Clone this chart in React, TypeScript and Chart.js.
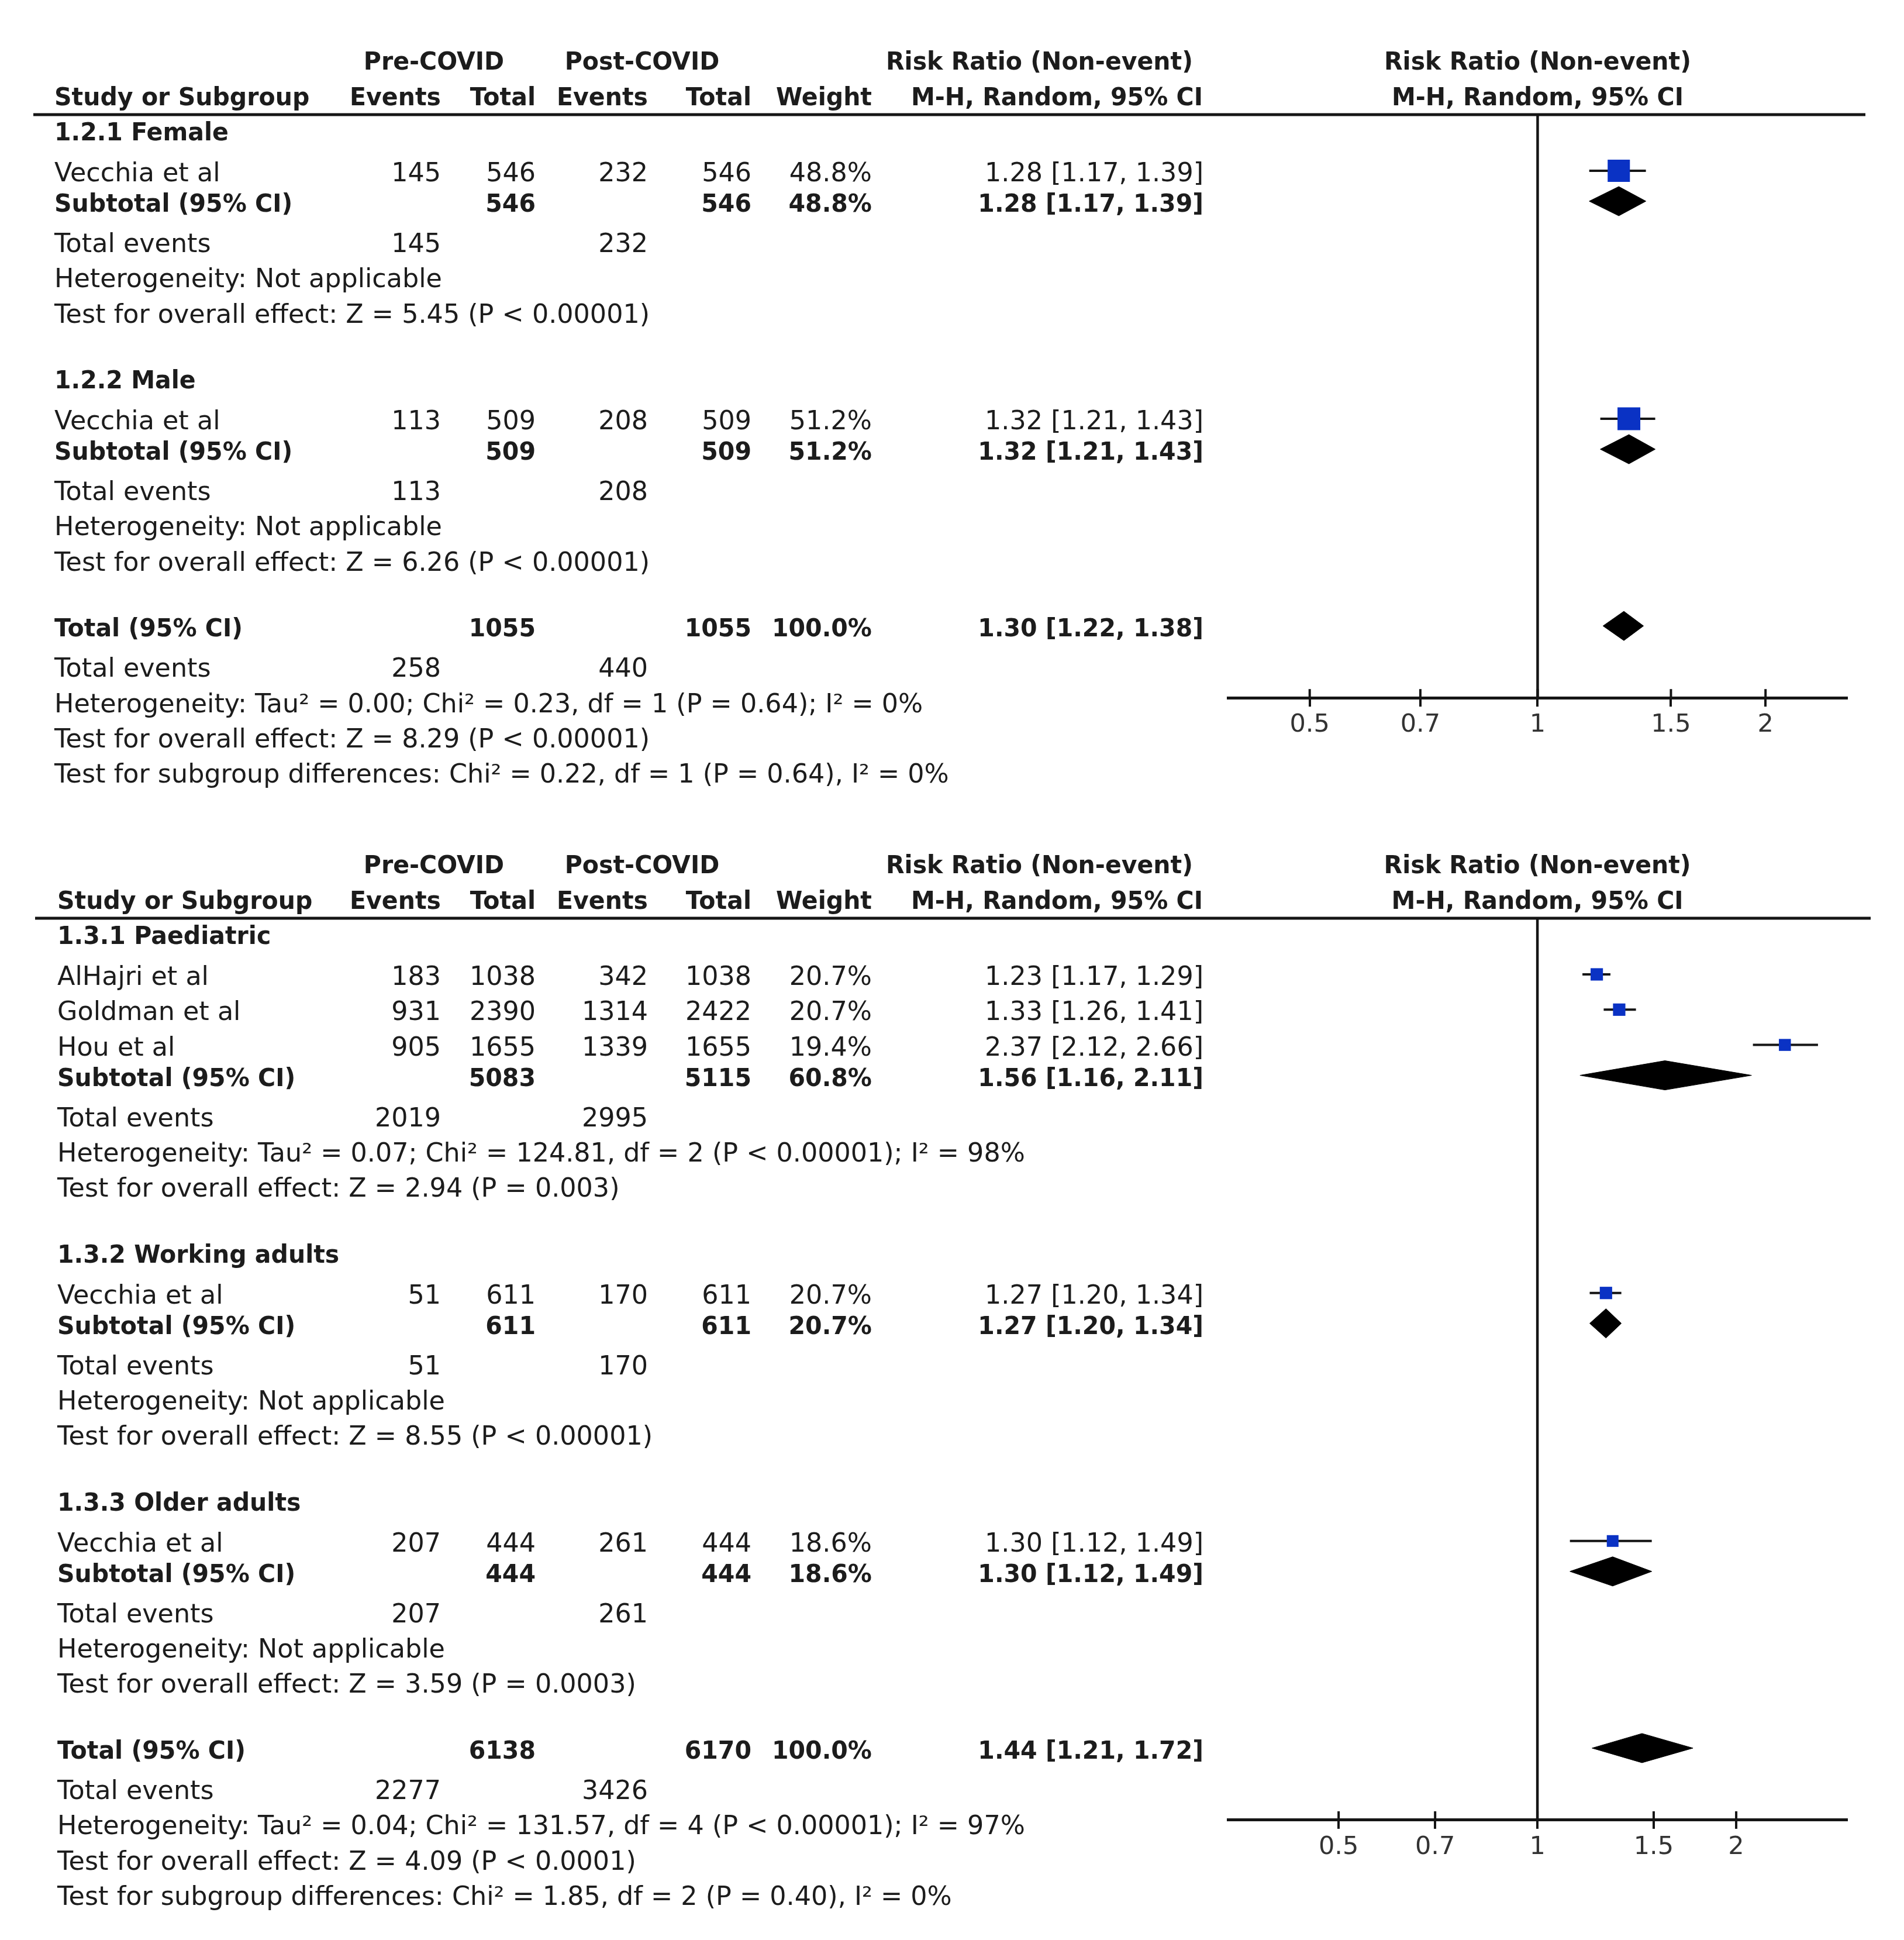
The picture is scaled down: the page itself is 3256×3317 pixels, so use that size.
import React, { useEffect, useRef } from "react";
import { Chart, registerables } from "chart.js";

Chart.register(...registerables);

const FONT_FAMILY = '"DejaVu Sans", "Lucida Grande", Verdana, sans-serif';
const TEXT_SIZE = 44;
const BOLD_SIZE = 43;
const TICK_SIZE = 43;
const TEXT_COLOR = "#1c1c1c";
const LINE_COLOR = "#151515";
const BOX_COLOR = "#0a32c4";

// ---------------- Data: sex subgroups (top plot) ----------------
const sexGroups = ["1.2.1 Female", "1.2.2 Male"];
const sexStudies = [
  { group: 0, name: "Vecchia et al", preEvents: 145, preTotal: 546, postEvents: 232, postTotal: 546, weight: 48.8, rr: 1.28, lo: 1.17, hi: 1.39 },
  { group: 1, name: "Vecchia et al", preEvents: 113, preTotal: 509, postEvents: 208, postTotal: 509, weight: 51.2, rr: 1.32, lo: 1.21, hi: 1.43 },
];
const sexSubtotals = [
  { weight: 48.8, rr: 1.28, lo: 1.17, hi: 1.39, heterogeneity: "Heterogeneity: Not applicable", effect: "Test for overall effect: Z = 5.45 (P < 0.00001)" },
  { weight: 51.2, rr: 1.32, lo: 1.21, hi: 1.43, heterogeneity: "Heterogeneity: Not applicable", effect: "Test for overall effect: Z = 6.26 (P < 0.00001)" },
];
const sexOverall = {
  weight: 100.0, rr: 1.30, lo: 1.22, hi: 1.38,
  heterogeneity: "Heterogeneity: Tau² = 0.00; Chi² = 0.23, df = 1 (P = 0.64); I² = 0%",
  effect: "Test for overall effect: Z = 8.29 (P < 0.00001)",
  subgroup: "Test for subgroup differences: Chi² = 0.22, df = 1 (P = 0.64), I² = 0%",
};
const sexTicks = [0.5, 0.7, 1, 1.5, 2];
const sexAxisRange = [0.39, 2.56];

// ---------------- Data: age subgroups (bottom plot) ----------------
const ageGroups = ["1.3.1 Paediatric", "1.3.2 Working adults", "1.3.3 Older adults"];
const ageStudies = [
  { group: 0, name: "AlHajri et al", preEvents: 183, preTotal: 1038, postEvents: 342, postTotal: 1038, weight: 20.7, rr: 1.23, lo: 1.17, hi: 1.29 },
  { group: 0, name: "Goldman et al", preEvents: 931, preTotal: 2390, postEvents: 1314, postTotal: 2422, weight: 20.7, rr: 1.33, lo: 1.26, hi: 1.41 },
  { group: 0, name: "Hou et al", preEvents: 905, preTotal: 1655, postEvents: 1339, postTotal: 1655, weight: 19.4, rr: 2.37, lo: 2.12, hi: 2.66 },
  { group: 1, name: "Vecchia et al", preEvents: 51, preTotal: 611, postEvents: 170, postTotal: 611, weight: 20.7, rr: 1.27, lo: 1.20, hi: 1.34 },
  { group: 2, name: "Vecchia et al", preEvents: 207, preTotal: 444, postEvents: 261, postTotal: 444, weight: 18.6, rr: 1.30, lo: 1.12, hi: 1.49 },
];
const ageSubtotals = [
  { weight: 60.8, rr: 1.56, lo: 1.16, hi: 2.11, heterogeneity: "Heterogeneity: Tau² = 0.07; Chi² = 124.81, df = 2 (P < 0.00001); I² = 98%", effect: "Test for overall effect: Z = 2.94 (P = 0.003)" },
  { weight: 20.7, rr: 1.27, lo: 1.20, hi: 1.34, heterogeneity: "Heterogeneity: Not applicable", effect: "Test for overall effect: Z = 8.55 (P < 0.00001)" },
  { weight: 18.6, rr: 1.30, lo: 1.12, hi: 1.49, heterogeneity: "Heterogeneity: Not applicable", effect: "Test for overall effect: Z = 3.59 (P = 0.0003)" },
];
const ageOverall = {
  weight: 100.0, rr: 1.44, lo: 1.21, hi: 1.72,
  heterogeneity: "Heterogeneity: Tau² = 0.04; Chi² = 131.57, df = 4 (P < 0.00001); I² = 97%",
  effect: "Test for overall effect: Z = 4.09 (P < 0.0001)",
  subgroup: "Test for subgroup differences: Chi² = 1.85, df = 2 (P = 0.40), I² = 0%",
};
const ageTicks = [0.5, 0.7, 1, 1.5, 2];
const ageAxisRange = [0.34, 2.94];

// ---------------- Column headers ----------------
const headerTop = ["Pre-COVID", "Post-COVID", "Risk Ratio (Non-event)"];
const headerBottom = ["Study or Subgroup", "Events", "Total", "Events", "Total", "Weight", "M-H, Random, 95% CI"];

// ---------------- Layout (positions / sizes only) ----------------
const PAGE_W = 3256;
const COL = { ev1: 754, tot1: 916, ev2: 1108, tot2: 1285, weight: 1491, ci: 2058, pre: 742, post: 1098, rrHead: 2040, mhHead: 2057 };
const PLOT_LEFT = 2100;
const PLOT_RIGHT = 3158;
const SP = { headerGap: 61, headerToRule: 31, ruleToGroup: 29, groupToStudy: 70, line: 60.3, studyToSub: 52, subToEvents: 69, testToNext: 112.5, totalToAxis: 120 };
const X_AXIS_H = 80;
const TICK_LEN = 15;
const BASE_DY = 15;
const MARK_DY = -3;
const DIAMOND_HALF = 25;

const panelA = {
  height: 1400, header1: 104, textLeft: 93, ruleLeft: 57, ruleRight: 3190, boxScale: 5.45,
  groups: sexGroups, studies: sexStudies, subtotals: sexSubtotals, overall: sexOverall, ticks: sexTicks, range: sexAxisRange,
};
const panelB = {
  height: 1917, header1: 78, textLeft: 98, ruleLeft: 60, ruleRight: 3199, boxScale: 4.65,
  groups: ageGroups, studies: ageStudies, subtotals: ageSubtotals, overall: ageOverall, ticks: ageTicks, range: ageAxisRange,
};

type Cell = { x: number | "plot"; text: string; align: CanvasTextAlign; bold: boolean };
type Row = { y: number; cells: Cell[] };
type Mark = { y: number; rr: number; lo: number; hi: number; weight: number; kind: "box" | "diamond" };

const fmtCI = (r: { rr: number; lo: number; hi: number }) => `${r.rr.toFixed(2)} [${r.lo.toFixed(2)}, ${r.hi.toFixed(2)}]`;
const fmtW = (w: number) => `${w.toFixed(1)}%`;
const sum = (a: number[]) => a.reduce((s, v) => s + v, 0);

function buildLayout(p: any) {
  const rows: Row[] = [];
  const marks: Mark[] = [];
  const h1 = p.header1;
  const h2 = h1 + SP.headerGap;
  const ruleY = h2 + SP.headerToRule;
  const L = p.textLeft;
  rows.push({
    y: h1,
    cells: [
      { x: COL.pre, text: headerTop[0], align: "center", bold: true },
      { x: COL.post, text: headerTop[1], align: "center", bold: true },
      { x: COL.rrHead, text: headerTop[2], align: "right", bold: true },
      { x: "plot", text: headerTop[2], align: "center", bold: true },
    ],
  });
  rows.push({
    y: h2,
    cells: [
      { x: L, text: headerBottom[0], align: "left", bold: true },
      { x: COL.ev1, text: headerBottom[1], align: "right", bold: true },
      { x: COL.tot1, text: headerBottom[2], align: "right", bold: true },
      { x: COL.ev2, text: headerBottom[3], align: "right", bold: true },
      { x: COL.tot2, text: headerBottom[4], align: "right", bold: true },
      { x: COL.weight, text: headerBottom[5], align: "right", bold: true },
      { x: COL.mhHead, text: headerBottom[6], align: "right", bold: true },
      { x: "plot", text: headerBottom[6], align: "center", bold: true },
    ],
  });
  let y = ruleY + SP.ruleToGroup;
  p.groups.forEach((title: string, gi: number) => {
    if (gi > 0) y += SP.testToNext;
    rows.push({ y, cells: [{ x: L, text: title, align: "left", bold: true }] });
    const gs = p.studies.filter((s: any) => s.group === gi);
    gs.forEach((s: any, i: number) => {
      y += i === 0 ? SP.groupToStudy : SP.line;
      rows.push({
        y,
        cells: [
          { x: L, text: s.name, align: "left", bold: false },
          { x: COL.ev1, text: String(s.preEvents), align: "right", bold: false },
          { x: COL.tot1, text: String(s.preTotal), align: "right", bold: false },
          { x: COL.ev2, text: String(s.postEvents), align: "right", bold: false },
          { x: COL.tot2, text: String(s.postTotal), align: "right", bold: false },
          { x: COL.weight, text: fmtW(s.weight), align: "right", bold: false },
          { x: COL.ci, text: fmtCI(s), align: "right", bold: false },
        ],
      });
      marks.push({ y, rr: s.rr, lo: s.lo, hi: s.hi, weight: s.weight, kind: "box" });
    });
    const sub = p.subtotals[gi];
    y += SP.studyToSub;
    rows.push({
      y,
      cells: [
        { x: L, text: "Subtotal (95% CI)", align: "left", bold: true },
        { x: COL.tot1, text: String(sum(gs.map((s: any) => s.preTotal))), align: "right", bold: true },
        { x: COL.tot2, text: String(sum(gs.map((s: any) => s.postTotal))), align: "right", bold: true },
        { x: COL.weight, text: fmtW(sub.weight), align: "right", bold: true },
        { x: COL.ci, text: fmtCI(sub), align: "right", bold: true },
      ],
    });
    marks.push({ y, rr: sub.rr, lo: sub.lo, hi: sub.hi, weight: sub.weight, kind: "diamond" });
    y += SP.subToEvents;
    rows.push({
      y,
      cells: [
        { x: L, text: "Total events", align: "left", bold: false },
        { x: COL.ev1, text: String(sum(gs.map((s: any) => s.preEvents))), align: "right", bold: false },
        { x: COL.ev2, text: String(sum(gs.map((s: any) => s.postEvents))), align: "right", bold: false },
      ],
    });
    y += SP.line;
    rows.push({ y, cells: [{ x: L, text: sub.heterogeneity, align: "left", bold: false }] });
    y += SP.line;
    rows.push({ y, cells: [{ x: L, text: sub.effect, align: "left", bold: false }] });
  });
  const ov = p.overall;
  y += SP.testToNext;
  const totalY = y;
  rows.push({
    y,
    cells: [
      { x: L, text: "Total (95% CI)", align: "left", bold: true },
      { x: COL.tot1, text: String(sum(p.studies.map((s: any) => s.preTotal))), align: "right", bold: true },
      { x: COL.tot2, text: String(sum(p.studies.map((s: any) => s.postTotal))), align: "right", bold: true },
      { x: COL.weight, text: fmtW(ov.weight), align: "right", bold: true },
      { x: COL.ci, text: fmtCI(ov), align: "right", bold: true },
    ],
  });
  marks.push({ y, rr: ov.rr, lo: ov.lo, hi: ov.hi, weight: ov.weight, kind: "diamond" });
  y += SP.subToEvents;
  rows.push({
    y,
    cells: [
      { x: L, text: "Total events", align: "left", bold: false },
      { x: COL.ev1, text: String(sum(p.studies.map((s: any) => s.preEvents))), align: "right", bold: false },
      { x: COL.ev2, text: String(sum(p.studies.map((s: any) => s.postEvents))), align: "right", bold: false },
    ],
  });
  y += SP.line;
  rows.push({ y, cells: [{ x: L, text: ov.heterogeneity, align: "left", bold: false }] });
  y += SP.line;
  rows.push({ y, cells: [{ x: L, text: ov.effect, align: "left", bold: false }] });
  y += SP.line;
  rows.push({ y, cells: [{ x: L, text: ov.subgroup, align: "left", bold: false }] });
  return { rows, marks, ruleY, axisY: totalY + SP.totalToAxis };
}

function drawText(ctx: CanvasRenderingContext2D, text: string, x: number, y: number, align: CanvasTextAlign, bold: boolean) {
  ctx.save();
  ctx.font = `${bold ? "bold " : ""}${bold ? BOLD_SIZE : TEXT_SIZE}px ${FONT_FAMILY}`;
  ctx.textAlign = align;
  ctx.textBaseline = "alphabetic";
  ctx.fillStyle = TEXT_COLOR;
  ctx.translate(x, y);
  ctx.scale(bold ? 0.955 : 1.01, 1);
  ctx.fillText(text, 0, 0);
  ctx.restore();
}

function ForestPanel({ cfg }: { cfg: any }) {
  const ref = useRef<HTMLCanvasElement | null>(null);
  useEffect(() => {
    if (!ref.current) return;
    const lay = buildLayout(cfg);
    const boxes = lay.marks.filter((m) => m.kind === "box");
    const diamonds = lay.marks.filter((m) => m.kind === "diamond");
    const datasets: any[] = [];
    datasets.push({
      label: "Study estimates",
      data: boxes.map((m) => ({ x: m.rr, y: m.y + MARK_DY })),
      pointStyle: "rect",
      pointRadius: boxes.map((m) => (cfg.boxScale * Math.sqrt(m.weight)) / Math.SQRT2),
      backgroundColor: BOX_COLOR,
      borderColor: BOX_COLOR,
      pointBorderWidth: 0,
      showLine: false,
      order: 0,
    });
    boxes.forEach((m) => {
      datasets.push({
        label: "CI",
        data: [{ x: m.lo, y: m.y + MARK_DY }, { x: m.hi, y: m.y + MARK_DY }],
        showLine: true,
        borderColor: LINE_COLOR,
        borderWidth: 4,
        pointRadius: 0,
        fill: false,
        order: 2,
      });
    });
    diamonds.forEach((m) => {
      const yc = m.y + MARK_DY;
      datasets.push({
        label: "Pooled upper",
        data: [{ x: m.lo, y: yc }, { x: m.rr, y: yc - DIAMOND_HALF }, { x: m.hi, y: yc }],
        showLine: true,
        borderColor: "#000",
        backgroundColor: "#000",
        borderWidth: 1,
        pointRadius: 0,
        fill: "+1",
        order: 1,
      });
      datasets.push({
        label: "Pooled lower",
        data: [{ x: m.lo, y: yc }, { x: m.rr, y: yc + DIAMOND_HALF }, { x: m.hi, y: yc }],
        showLine: true,
        borderColor: "#000",
        backgroundColor: "#000",
        borderWidth: 1,
        pointRadius: 0,
        fill: false,
        order: 1,
      });
    });
    datasets.push({
      label: "No effect",
      data: [{ x: 1, y: lay.ruleY }, { x: 1, y: lay.axisY }],
      showLine: true,
      borderColor: LINE_COLOR,
      borderWidth: 4.5,
      pointRadius: 0,
      fill: false,
      order: 3,
    });

    const tablePlugin = {
      id: "forestTable",
      afterDraw(chart: any) {
        const { ctx } = chart;
        const ys = chart.scales.y;
        const xs = chart.scales.x;
        ctx.save();
        ctx.strokeStyle = LINE_COLOR;
        ctx.lineWidth = 5;
        const ry = ys.getPixelForValue(lay.ruleY);
        ctx.beginPath();
        ctx.moveTo(cfg.ruleLeft, ry);
        ctx.lineTo(cfg.ruleRight, ry);
        ctx.stroke();
        const ay = ys.getPixelForValue(lay.axisY);
        ctx.lineWidth = 4;
        xs.ticks.forEach((t: any) => {
          const px = xs.getPixelForValue(t.value);
          ctx.beginPath();
          ctx.moveTo(px, ay - TICK_LEN);
          ctx.lineTo(px, ay);
          ctx.stroke();
        });
        ctx.restore();
        const plotX = xs.getPixelForValue(1);
        lay.rows.forEach((r) => {
          const py = ys.getPixelForValue(r.y) + BASE_DY;
          r.cells.forEach((c) => drawText(ctx, c.text, c.x === "plot" ? plotX : c.x, py, c.align, c.bold));
        });
      },
    };

    const chart = new Chart(ref.current, {
      type: "scatter",
      data: { datasets },
      options: {
        responsive: false,
        animation: false,
        devicePixelRatio: 1,
        events: [],
        layout: {
          padding: {
            left: PLOT_LEFT,
            right: PAGE_W - PLOT_RIGHT,
            top: lay.ruleY,
            bottom: cfg.height - lay.axisY - X_AXIS_H,
          },
        },
        plugins: { legend: { display: false }, tooltip: { enabled: false } },
        scales: {
          x: {
            type: "logarithmic",
            position: "bottom",
            bounds: "data",
            min: cfg.range[0],
            max: cfg.range[1],
            afterBuildTicks: (s: any) => {
              s.ticks = cfg.ticks.map((v: number) => ({ value: v }));
            },
            afterFit: (s: any) => {
              s.height = X_AXIS_H;
            },
            ticks: {
              autoSkip: false,
              maxRotation: 0,
              padding: 6,
              color: "#333",
              font: { family: FONT_FAMILY, size: TICK_SIZE },
              callback: (v: any) => String(v),
            },
            grid: { display: true, drawOnChartArea: false, drawTicks: true, tickLength: TICK_LEN, lineWidth: 4, color: LINE_COLOR },
            border: { display: true, color: LINE_COLOR, width: 5 },
          },
          y: { type: "linear", min: lay.ruleY, max: lay.axisY, reverse: true, display: false },
        },
      } as any,
      plugins: [tablePlugin],
    });
    return () => chart.destroy();
  }, [cfg]);
  return <canvas ref={ref} width={PAGE_W} height={cfg.height} style={{ display: "block", width: PAGE_W, height: cfg.height }} />;
}

export default function App() {
  return (
    <div style={{ position: "absolute", left: 0, top: 0, width: PAGE_W, height: 3317, background: "#ffffff" }}>
      <ForestPanel cfg={panelA} />
      <ForestPanel cfg={panelB} />
    </div>
  );
}
